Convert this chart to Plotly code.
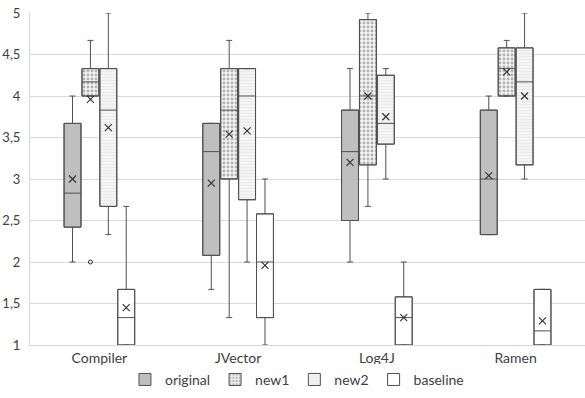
import plotly.graph_objects as go

categories = ["Compiler", "JVector", "Log4J", "Ramen"]
series = ["original", "new1", "new2", "baseline"]

# per series: lower fence, q1, median, q3, upper fence, mean (one value per category)
original_lf = [2.0, 1.67, 2.0, 2.33]
original_q1 = [2.42, 2.08, 2.5, 2.33]
original_med = [2.83, 3.33, 3.33, 3.0]
original_q3 = [3.67, 3.67, 3.83, 3.83]
original_uf = [4.0, 3.67, 4.33, 4.0]
original_mean = [3.0, 2.95, 3.2, 3.04]

new1_lf = [4.0, 1.33, 2.67, 4.0]
new1_q1 = [4.0, 3.0, 3.17, 4.0]
new1_med = [4.17, 3.83, 4.0, 4.33]
new1_q3 = [4.33, 4.33, 4.92, 4.58]
new1_uf = [4.67, 4.67, 5.0, 4.67]
new1_mean = [3.96, 3.54, 4.0, 4.29]

new2_lf = [2.33, 2.0, 3.0, 3.0]
new2_q1 = [2.67, 2.75, 3.42, 3.17]
new2_med = [3.83, 4.0, 3.67, 4.17]
new2_q3 = [4.33, 4.33, 4.25, 4.58]
new2_uf = [5.0, 4.33, 4.33, 5.0]
new2_mean = [3.62, 3.58, 3.75, 4.0]

baseline_lf = [1.0, 1.0, 1.0, 1.0]
baseline_q1 = [1.0, 1.33, 1.0, 1.0]
baseline_med = [1.33, 2.0, 1.33, 1.17]
baseline_q3 = [1.67, 2.58, 1.58, 1.67]
baseline_uf = [2.67, 3.0, 2.0, 1.67]
baseline_mean = [1.45, 1.96, 1.33, 1.29]

# outliers: (category index, series index, value)
outlier_cat = [0]
outlier_series = [1]
outlier_val = [2.0]

y_ticks = [1, 1.5, 2, 2.5, 3, 3.5, 4, 4.5, 5]
y_ticktext = ["1", "1,5", "2", "2,5", "3", "3,5", "4", "4,5", "5"]

stats = {
    "original": (original_lf, original_q1, original_med, original_q3, original_uf, original_mean),
    "new1": (new1_lf, new1_q1, new1_med, new1_q3, new1_uf, new1_mean),
    "new2": (new2_lf, new2_q1, new2_med, new2_q3, new2_uf, new2_mean),
    "baseline": (baseline_lf, baseline_q1, baseline_med, baseline_q3, baseline_uf, baseline_mean),
}
fills = {"original": "#bfbfbf", "new1": "#ffffff", "new2": "#f2f2f2", "baseline": "#ffffff"}
patterns = {
    "original": dict(shape=""),
    "new1": dict(shape=".", fgcolor="#707070", bgcolor="#f4f4f4", size=4, solidity=0.4),
    "new2": dict(shape="-", fgcolor="#dedede", bgcolor="#f4f4f4", size=3, solidity=0.3),
    "baseline": dict(shape=""),
}
line_col = "#505050"
box_w = 0.122
step = 0.129
offsets = [(-1.5 + k) * step for k in range(4)]

fig = go.Figure()
for k, s in enumerate(series):
    lf, q1, med, q3, uf, mean = stats[s]
    xs = [i + offsets[k] for i in range(len(categories))]
    fig.add_trace(go.Bar(
        x=xs, y=[b - a for a, b in zip(q1, q3)], base=q1, width=box_w, name=s,
        marker=dict(color=fills[s], pattern=patterns[s], line=dict(width=1, color=line_col)),
        hoverinfo="skip", showlegend=True,
    ))
for k, s in enumerate(series):
    lf, q1, med, q3, uf, mean = stats[s]
    xs = [i + offsets[k] for i in range(len(categories))]
    fig.add_trace(go.Box(
        x=xs, q1=q1, median=med, q3=q3, lowerfence=lf, upperfence=uf,
        name=s, width=box_w, fillcolor="rgba(0,0,0,0)",
        line=dict(color=line_col, width=1), whiskerwidth=0.35,
        boxpoints=False, showlegend=False,
    ))
    fig.add_trace(go.Scatter(
        x=xs, y=mean, mode="markers", showlegend=False, hoverinfo="skip",
        marker=dict(symbol="x-thin", size=7, line=dict(color="#303030", width=1.1)),
    ))

fig.add_trace(go.Scatter(
    x=[c + offsets[s] for c, s in zip(outlier_cat, outlier_series)], y=outlier_val,
    mode="markers", showlegend=False, hoverinfo="skip",
    marker=dict(symbol="circle-open", size=4, color="#303030", line=dict(width=1)),
))

fig.update_layout(
    width=585, height=398,
    margin=dict(l=30, r=0, t=13, b=53),
    paper_bgcolor="white", plot_bgcolor="white",
    font=dict(family="Lato, 'Open Sans', sans-serif", size=13, color="#404040"),
    barmode="overlay", boxmode="overlay",
    legend=dict(orientation="h", x=0.481, xanchor="center", y=-0.105, yanchor="middle",
                font=dict(size=14), itemwidth=30, tracegroupgap=0),
    xaxis=dict(range=[-0.5, 3.5], tickvals=list(range(len(categories))), ticktext=categories,
               showgrid=False, zeroline=False, showline=True, linecolor="#d9d9d9",
               ticks="", tickfont=dict(size=14), automargin=False),
    yaxis=dict(range=[1, 5], tickvals=y_ticks, ticktext=y_ticktext, showgrid=True,
               gridcolor="#d9d9d9", zeroline=False, showline=True, linecolor="#d9d9d9",
               ticks="", ticklabelstandoff=6, automargin=False),
)

fig.write_html("out.html", config={"displayModeBar": False},
               post_script="document.body.style.margin='0';")
